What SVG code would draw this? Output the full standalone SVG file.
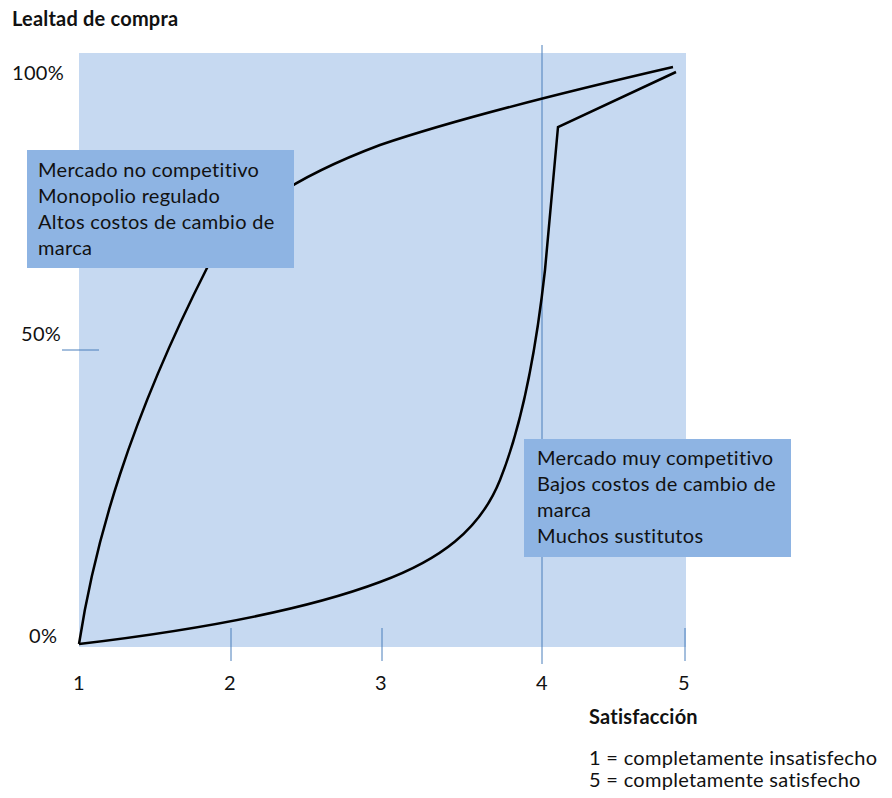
<svg xmlns="http://www.w3.org/2000/svg" width="892" height="798" viewBox="0 0 892 798">
  <style>
    .lbl { font-family: Lato, "Liberation Sans", sans-serif; font-size: 20px; letter-spacing: 0.3px; fill: #111; }
    .bold { font-weight: bold; letter-spacing: 0.2px; }
    .axis { stroke: #4a7ebb; stroke-width: 1; fill: none; }
    .curve { stroke: #000; stroke-width: 2.5; fill: none; stroke-linejoin: miter; }
    .box { fill: #8eb4e3; }
  </style>

  <!-- plot area -->
  <rect id="plot-area" x="79" y="53" width="607" height="594" fill="#c6d9f1"/>

  <!-- axis ticks and guide line -->
  <g id="axes">
    <line class="axis" x1="62" y1="350" x2="99" y2="350"/>
    <line class="axis" x1="231" y1="628" x2="231" y2="661"/>
    <line class="axis" x1="382" y1="628" x2="382" y2="661"/>
    <line class="axis" x1="542" y1="45" x2="542" y2="664"/>
    <line class="axis" x1="685" y1="628" x2="685" y2="661"/>
  </g>

  <!-- loyalty curves -->
  <g id="connectors">
    <path class="curve" d="M79,644 C95,540 130,420 207,268 C235,213 300,175 380,145 C430,128 530,100 673,67"/>
    <path class="curve" d="M79,644 C180,632 300,612 380,582 C440,560 480,530 500,480 C520,430 535,360 545,270 L558,127 L676,72"/>
  </g>

  <!-- axis labels -->
  <g id="y-axis-labels">
    <text class="lbl bold" x="12" y="26">Lealtad de compra</text>
    <text class="lbl" x="12" y="80">100%</text>
    <text class="lbl" x="21" y="341">50%</text>
    <text class="lbl" x="29" y="643">0%</text>
  </g>
  <g id="x-axis-labels">
    <text class="lbl" x="79" y="690" text-anchor="middle">1</text>
    <text class="lbl" x="230" y="690" text-anchor="middle">2</text>
    <text class="lbl" x="381" y="690" text-anchor="middle">3</text>
    <text class="lbl" x="542" y="690" text-anchor="middle">4</text>
    <text class="lbl" x="684" y="690" text-anchor="middle">5</text>
  </g>

  <!-- market type notes -->
  <g id="note-no-competitivo">
    <rect class="box" x="27" y="150" width="267" height="118"/>
    <text class="lbl" x="38" y="177">Mercado no competitivo</text>
    <text class="lbl" x="38" y="203">Monopolio regulado</text>
    <text class="lbl" x="38" y="229">Altos costos de cambio de</text>
    <text class="lbl" x="38" y="255">marca</text>
  </g>
  <g id="note-muy-competitivo">
    <rect class="box" x="524" y="439" width="267" height="118"/>
    <text class="lbl" x="537" y="465">Mercado muy competitivo</text>
    <text class="lbl" x="537" y="491">Bajos costos de cambio de</text>
    <text class="lbl" x="537" y="517">marca</text>
    <text class="lbl" x="537" y="543">Muchos sustitutos</text>
  </g>

  <!-- satisfaction legend -->
  <g id="legend">
    <text class="lbl bold" x="589" y="724">Satisfacción</text>
    <text class="lbl" x="589" y="765">1 = completamente insatisfecho</text>
    <text class="lbl" x="589" y="787">5 = completamente satisfecho</text>
  </g>
</svg>
